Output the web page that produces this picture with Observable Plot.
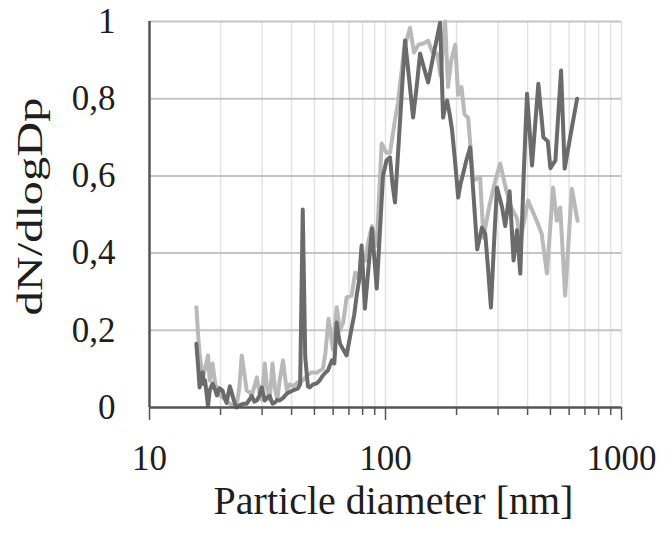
<!DOCTYPE html>
<html>
<head>
<meta charset="utf-8">
<script src="https://cdn.jsdelivr.net/npm/d3@7"></script>
<script src="https://cdn.jsdelivr.net/npm/@observablehq/plot@0.6"></script>
<style>
  html, body { margin: 0; padding: 0; background: #fff; }
  #chart { width: 667px; height: 535px; }
</style>
</head>
<body>
<div id="chart"></div>
<script>
// ---- data ----
const xTitle = "Particle diameter [nm]";
const yTitle = "dN/dlogDp";
const xMajor = [10, 100, 1000];
const xMinor = [20, 30, 40, 50, 60, 70, 80, 90, 200, 300, 400, 500, 600, 700, 800, 900];
const yTicks = [0, 0.2, 0.4, 0.6, 0.8, 1];

// dark grey series: diameter [nm], dN/dlogDp
const darkD = [15.8,16.1,16.3,16.6,16.8,17.0,17.2,17.5,17.7,18.0,18.5,19.0,19.3,19.8,20.4,20.8,21.2,21.9,22.5,23.0,23.4,24.0,24.6,25.2,25.8,26.5,27.1,27.8,28.5,29.2,29.9,30.8,31.5,32.3,33.2,34.0,34.8,35.6,36.8,38.2,39.3,40.5,41.5,42.5,43.5,44.6,45.7,46.9,47.8,49.3,51.0,52.6,54.3,55.6,57.0,58.2,59.3,60.7,62.1,63.1,64.1,66.2,68.4,70.1,71.9,73.7,75.5,77.3,79.2,81.8,87.6,91.8,97.6,101,104.5,107,109.7,121,125.5,130.9,135.5,140.1,145.5,151.6,160.5,170.4,175.4,179,182.4,187,191.5,197,203.2,208,213.4,220,228.5,236,244.7,256.2,264.6,272,279.8,288,296.7,311.5,321.7,335.6,348.9,360.7,372.5,385,397.8,417.7,444.3,466.6,487,499.7,524.7,554.5,574.4,610,648.5];
const darkV = [0.165,0.10,0.052,0.075,0.091,0.06,0.07,0.03,0.003,0.045,0.062,0.045,0.031,0.05,0.044,0.025,0.012,0.055,0.03,0.01,0.0,0.005,0.008,0.01,0.01,0.02,0.03,0.015,0.018,0.03,0.052,0.018,0.025,0.03,0.01,0.013,0.02,0.018,0.025,0.036,0.04,0.044,0.047,0.049,0.06,0.513,0.13,0.055,0.052,0.06,0.062,0.07,0.083,0.09,0.096,0.11,0.122,0.114,0.22,0.19,0.166,0.15,0.135,0.17,0.207,0.24,0.29,0.33,0.42,0.256,0.464,0.308,0.60,0.64,0.648,0.58,0.531,0.951,0.86,0.751,0.83,0.917,0.88,0.842,0.92,0.997,0.751,0.78,0.795,0.76,0.718,0.64,0.544,0.58,0.606,0.64,0.674,0.55,0.41,0.466,0.45,0.36,0.259,0.42,0.57,0.52,0.47,0.56,0.381,0.459,0.347,0.60,0.813,0.627,0.839,0.70,0.69,0.62,0.64,0.873,0.619,0.71,0.80];

// light grey series
const lightD = [15.8,16.1,16.3,16.8,17.2,17.7,18.0,18.5,19.0,19.3,20.0,21.0,21.9,22.5,23.4,24.0,24.6,25.2,25.8,26.5,27.1,28.0,28.5,29.2,29.9,30.8,31.5,32.3,33.2,34.0,34.8,35.6,36.8,37.5,38.2,39.3,40.5,41.5,42.5,44.6,46.9,48.6,51.0,54.3,55.6,57.4,59.9,62.1,64.1,66.2,68.4,71.9,74.4,77.3,79.2,81.8,84.6,87.6,91.8,96.3,101,104.5,109.7,113,120,127,132,138,144.5,151.6,158,165.5,171,179,184,190,197.6,203,210,216,224,235.3,251.8,260,275,292,306,325,340,361,372,402,437,459,483,513,532,550,577,616,651];
const lightV = [0.26,0.18,0.14,0.078,0.10,0.135,0.07,0.114,0.06,0.052,0.03,0.02,0.01,0.005,0.005,0.05,0.135,0.09,0.044,0.04,0.03,0.06,0.078,0.04,0.02,0.114,0.05,0.02,0.114,0.05,0.02,0.07,0.122,0.08,0.045,0.06,0.055,0.06,0.065,0.07,0.085,0.091,0.09,0.10,0.14,0.23,0.15,0.26,0.20,0.22,0.285,0.29,0.35,0.33,0.40,0.38,0.43,0.47,0.42,0.684,0.66,0.66,0.745,0.79,0.93,0.984,0.92,0.94,0.943,0.95,0.92,0.917,0.86,1.0,0.83,0.90,0.94,0.81,0.83,0.76,0.75,0.588,0.596,0.44,0.52,0.588,0.632,0.562,0.52,0.49,0.43,0.536,0.484,0.45,0.347,0.57,0.484,0.518,0.29,0.567,0.484];

const dark = darkD.map((d, i) => ({d, v: darkV[i]}));
const light = lightD.map((d, i) => ({d, v: lightV[i]}));
const xGrid = xMinor.concat([100, 1000]);

const axisColor = "#555";
const chart = Plot.plot({
  width: 667,
  height: 535,
  marginLeft: 149,
  marginRight: 46,
  marginTop: 21,
  marginBottom: 128,
  x: {type: "log", domain: [10, 1000], label: null},
  y: {domain: [0, 1], label: null},
  style: {fontFamily: "'Liberation Serif', 'Times New Roman', serif", fontSize: "35px", color: "#1e1e1e", background: "#fff"},
  marks: [
    Plot.ruleX(xGrid, {stroke: "#e3e3e3", strokeWidth: 1.5}),
    Plot.ruleY(yTicks.filter(t => t > 0), {stroke: "#c4c4c4", strokeWidth: 2}),
    Plot.line(light, {x: "d", y: "v", stroke: "#b9b9b9", strokeWidth: 4, strokeLinejoin: "round"}),
    Plot.line(dark, {x: "d", y: "v", stroke: "#6b6b6b", strokeWidth: 4, strokeLinejoin: "round"}),
    Plot.ruleX([10], {stroke: axisColor, strokeWidth: 2.5}),
    Plot.ruleY([0], {stroke: axisColor, strokeWidth: 2.5}),
    Plot.axisX(xMinor, {tickSize: 8, tickFormat: () => "", stroke: axisColor, strokeWidth: 1.5, label: null}),
    Plot.axisX(xMajor, {tickSize: 13, tickPadding: 25, tickFormat: d => String(d), stroke: axisColor, strokeWidth: 1.5, label: null}),
    Plot.axisY(yTicks, {tickSize: 0, tickPadding: 34, tickFormat: d => String(d).replace(".", ","), label: null}),
    Plot.text([xTitle], {frameAnchor: "bottom", dx: 8, dy: 106, fontSize: 40, fill: "#1e1e1e"}),
    Plot.text([yTitle], {frameAnchor: "left", textAnchor: "start", dx: -119, dy: 101, rotate: -90, fontSize: 36, fill: "#1e1e1e"})
  ]
});

d3.select(chart).selectAll("text")
  .filter(function() { return this.textContent === yTitle; })
  .attr("textLength", 218)
  .attr("lengthAdjust", "spacingAndGlyphs");

document.getElementById("chart").appendChild(chart);
</script>
</body>
</html>
